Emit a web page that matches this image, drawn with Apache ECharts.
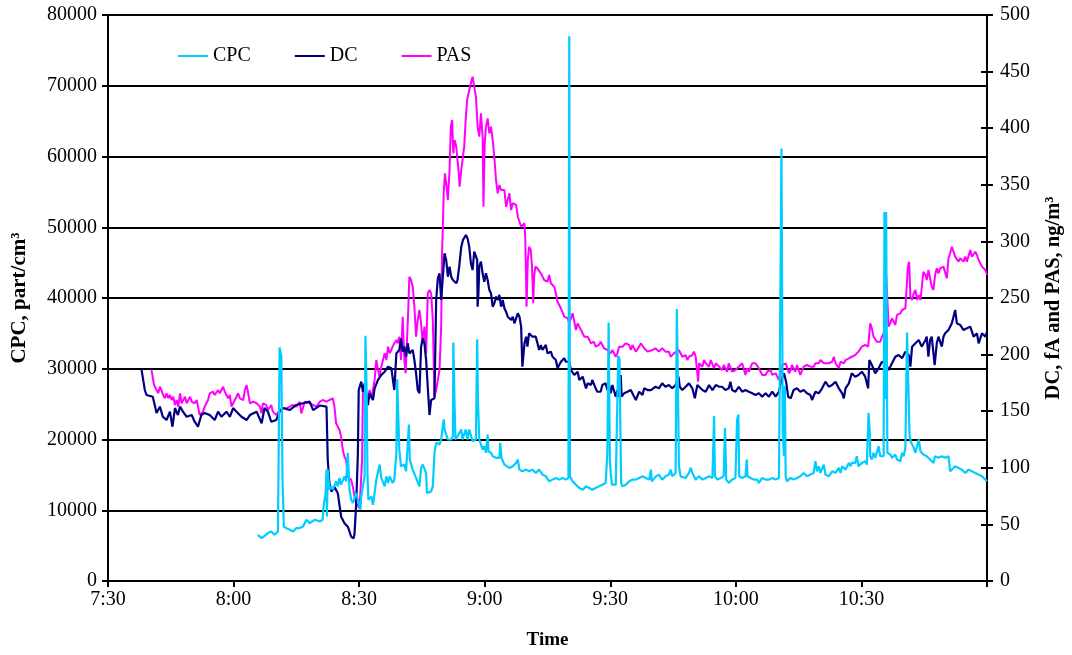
<!DOCTYPE html>
<html><head><meta charset="utf-8">
<script src="https://cdn.jsdelivr.net/npm/echarts@6/dist/echarts.min.js"></script>
<style>html,body{margin:0;padding:0;background:#fff}#c{width:1072px;height:655px}</style>
</head><body><div id="c"></div>
<script>
// x = minutes after 7:30
const xTickLabels = ['7:30','8:00','8:30','9:00','9:30','10:00','10:30',''];
const seriesNames = ['CPC','DC','PAS'];

const cpcPoints = [[35.8,6525],[36.7,6057],[37.4,6383],[38.2,6766],[39.0,6993],[39.8,6525],[40.6,6993],[40.9,6993],[41.0,33007],[41.4,31815],[41.7,14326],[42.0,7702],[42.6,7475],[43.4,7234],[44.2,6993],[45.0,7475],[45.8,7475],[46.6,7702],[47.4,8652],[48.2,8184],[48.6,8411],[49.4,8652],[50.6,8411],[51.3,8652],[51.5,10539],[52.0,12440],[52.2,15744],[52.3,9120],[52.5,15744],[52.9,12907],[53.4,13375],[53.7,12907],[54.5,14085],[54.9,13375],[55.3,14567],[55.7,13617],[56.5,14794],[56.9,14085],[57.3,18113],[57.5,15276],[57.7,12907],[58.1,11489],[58.5,11021],[59.3,12440],[59.7,11489],[60.3,10071],[60.5,11957],[60.9,13375],[61.3,14794],[61.5,34652],[61.8,26624],[62.0,14794],[62.2,11489],[62.9,11957],[63.3,10780],[63.7,12440],[64.1,14326],[64.9,16453],[65.3,14567],[66.1,13375],[66.5,14794],[66.9,13858],[67.3,14794],[68.0,13858],[68.4,14326],[68.9,18113],[69.1,28510],[69.3,24255],[69.6,18581],[70.0,16212],[70.8,16453],[71.2,15503],[71.6,15744],[71.9,22127],[72.1,17163],[72.8,15744],[73.6,14567],[74.4,13375],[74.8,15985],[75.2,16453],[76.0,15276],[76.2,12440],[77.2,12666],[77.6,13375],[78.0,18113],[78.4,19532],[79.2,19290],[79.6,20000],[80.2,22836],[80.4,21418],[81.2,20000],[82.0,20000],[82.4,20468],[82.5,33716],[82.8,24723],[83.0,20000],[83.5,20468],[84.4,21418],[84.7,20000],[85.5,21418],[85.9,20000],[86.3,21418],[87.1,19759],[87.9,20000],[88.2,34184],[88.4,25205],[88.7,20000],[89.5,18581],[89.9,19049],[90.3,18113],[90.7,20709],[90.9,18340],[91.5,18113],[91.9,17631],[92.7,17404],[93.1,17163],[93.5,17404],[93.7,19532],[94.0,17404],[94.3,17163],[94.7,16453],[95.1,16212],[95.9,15985],[96.7,16212],[97.5,16694],[97.9,17163],[98.3,15744],[99.0,15503],[99.9,15744],[100.6,15503],[101.4,15744],[102.2,15276],[103.0,15744],[103.8,15035],[104.6,14794],[105.4,14085],[106.2,14326],[107.0,14567],[107.8,14326],[108.6,14567],[109.0,14794],[109.4,14326],[110.0,14567],[110.2,77000],[110.35,14794],[111.0,14085],[111.8,13617],[112.6,13149],[113.4,12907],[114.2,13375],[115.0,13149],[115.7,12907],[116.5,13149],[117.3,13375],[118.1,13617],[118.9,13858],[119.3,18113],[119.6,36552],[119.9,17163],[120.1,15276],[120.4,13617],[121.3,13617],[121.7,13375],[121.9,31815],[122.2,31347],[122.4,21886],[122.6,13858],[122.9,13375],[123.7,13617],[124.5,14085],[125.3,14326],[126.1,14326],[126.9,14567],[127.7,14794],[128.5,14567],[129.3,14326],[129.7,15744],[129.9,14085],[130.9,14794],[131.6,15035],[132.4,14326],[133.2,14794],[134.0,15035],[134.4,15744],[134.8,14794],[135.6,15276],[135.9,38439],[136.1,30396],[136.3,20950],[136.4,16212],[136.8,14794],[137.2,15035],[138.0,14567],[138.8,15276],[139.2,15985],[139.6,15276],[140.4,14326],[141.2,14794],[142.0,14326],[142.8,14567],[143.6,14794],[144.4,14567],[144.8,23305],[145.0,14794],[145.6,14326],[146.4,14567],[147.1,14794],[147.4,21659],[147.7,14326],[148.3,13858],[149.1,14326],[149.9,14567],[150.3,22836],[150.6,23545],[150.8,14794],[151.5,14567],[152.3,14794],[152.6,17163],[152.8,14794],[153.5,14567],[154.3,14326],[155.1,14326],[155.5,13858],[156.3,14567],[157.1,14326],[157.9,14326],[158.7,14567],[159.5,14326],[160.3,14567],[160.7,14794],[160.9,61133],[161.2,20950],[161.5,17631],[161.7,27560],[161.9,14794],[162.2,14085],[163.1,14567],[163.8,14326],[164.6,14567],[165.4,14794],[166.2,15276],[167.0,14794],[167.8,15035],[168.6,15276],[169.0,16922],[169.4,15503],[169.8,16212],[170.2,15276],[171.0,16453],[171.4,15035],[172.2,14794],[173.0,15503],[173.8,15276],[174.6,15985],[175.0,15276],[175.4,16212],[176.2,15744],[177.0,16694],[177.4,16212],[177.7,16694],[178.5,16694],[178.9,17631],[179.3,16212],[180.1,16694],[180.9,16922],[181.3,16453],[181.7,23786],[182.0,20950],[182.1,17631],[182.5,17163],[182.9,18113],[183.3,17404],[184.1,19049],[184.5,17631],[185.3,17631],[185.5,52154],[185.8,25673],[185.9,52154],[186.2,18113],[186.9,17872],[187.3,17404],[188.1,17872],[188.5,17163],[189.3,16922],[189.7,18113],[190.1,17631],[190.5,18823],[190.9,35134],[191.3,35134],[191.5,20468],[191.9,19532],[192.5,18823],[192.9,18113],[193.7,20000],[194.1,18340],[194.8,17872],[195.6,17631],[196.4,17163],[197.2,16694],[197.6,17631],[198.4,17404],[199.2,17631],[200.0,17404],[200.8,17631],[201.2,15503],[201.6,15276],[202.4,16212],[203.2,15985],[204.0,15744],[204.8,15276],[205.6,15744],[206.4,15503],[207.2,15276],[208.0,15035],[208.8,14794],[209.6,14326],[210.0,14085]];

const dcPoints = [[8.0,187],[8.8,168.7],[9.2,164.3],[10.7,162.8],[11.6,148.4],[12.4,154],[13.1,145.1],[14.0,142.2],[14.8,149.6],[15.4,136.3],[16.0,152.8],[16.7,146.6],[17.2,154],[17.9,149.6],[18.8,145.1],[20.0,146.6],[20.7,140.7],[21.5,136.3],[22.3,146.6],[23.1,148.4],[24.3,146.6],[25.5,142.2],[26.3,149.6],[27.1,145.1],[28.3,149.6],[29.1,145.1],[29.9,152.8],[30.7,149.6],[31.9,145.1],[33.1,142.2],[33.9,146.6],[35.5,149.6],[36.7,139.3],[37.4,152.8],[38.2,149.6],[39.0,140.7],[40.2,142.2],[41.0,149.6],[41.8,152.8],[43.4,151],[45.0,155.5],[46.6,157],[48.2,158.4],[49.0,151],[50.6,155],[52.2,154],[52.5,106.9],[52.9,86.3],[53.4,78.9],[54.1,83.3],[54.9,77.5],[55.7,56.8],[56.5,51],[57.3,48],[58.1,39.1],[58.7,37.7],[58.9,42.1],[59.3,68.6],[59.7,112.8],[59.9,168.7],[60.5,176.1],[60.9,167.2],[61.3,174.6],[61.7,165.8],[62.1,155.5],[62.5,165.8],[63.3,159.9],[63.7,170.2],[64.5,177.6],[65.3,182],[66.1,184.9],[66.9,189.3],[67.7,187.9],[68.4,168.7],[68.9,201.1],[69.6,204.1],[70.0,214.4],[70.4,202.6],[70.8,207],[71.2,198.1],[71.6,210],[72.0,201.1],[72.8,204.1],[73.2,195.2],[73.6,183.5],[74.0,168.7],[74.4,165.8],[74.8,207],[75.2,214.4],[75.6,210],[76.0,195.2],[76.8,146.6],[77.2,159.9],[78.0,161.4],[78.4,248.2],[78.8,267.4],[79.2,271.8],[79.6,248.2],[80.0,268.8],[80.4,289.5],[80.8,283.6],[81.2,268.8],[81.6,277.7],[82.0,268.8],[82.4,265.9],[83.2,263],[83.5,265.9],[83.9,277.7],[84.4,295.3],[84.8,301.2],[85.5,305.7],[85.9,302.7],[86.3,295.3],[86.7,280.7],[87.1,274.7],[87.5,290.9],[87.9,292.4],[88.2,283.6],[88.3,242.3],[88.5,254],[88.7,277.7],[89.1,282.1],[89.5,271.8],[89.9,264.4],[90.3,271.8],[90.7,265.9],[91.1,257.1],[91.5,254.2],[91.9,242.3],[92.3,245.3],[92.7,251.2],[93.1,248.2],[93.5,252.7],[93.9,242.3],[94.3,248.2],[94.7,240.9],[95.1,237.9],[95.5,233.5],[95.9,235],[96.3,230.6],[96.7,233.5],[97.1,227.6],[97.5,229.1],[97.9,236.5],[98.3,233.5],[98.7,224.7],[99.0,189.3],[99.5,210],[99.9,215.8],[100.2,207],[100.6,218.8],[101.0,220.2],[101.4,215.8],[102.2,215.8],[102.6,210],[103.0,204.1],[103.4,208.5],[103.8,204.1],[104.6,208.5],[105.0,201.1],[105.8,202.6],[106.2,198.1],[107.0,195.2],[107.4,187.9],[107.8,186.4],[108.2,193.7],[109.0,196.7],[109.4,193.7],[110.2,193.7],[110.6,186.4],[111.4,182],[112.2,184.9],[112.6,177.6],[113.0,176.1],[113.4,180.5],[114.2,170.2],[114.6,174.6],[115.4,173.1],[115.7,177.6],[116.5,170.2],[116.9,167.2],[117.7,167.2],[118.1,173.1],[118.9,174.6],[119.3,168.7],[119.7,173.1],[120.1,165.8],[120.5,173.1],[121.3,162.8],[121.7,168.7],[122.1,162.8],[122.5,182],[122.7,162.8],[123.3,165.8],[124.1,167.2],[124.9,168.7],[125.7,162.8],[126.1,159.9],[126.9,167.2],[127.7,164.3],[128.1,170.2],[128.9,168.7],[129.7,168.7],[130.1,170.2],[130.8,171.6],[131.6,170.2],[132.4,174.6],[133.2,171.6],[134.0,173.1],[134.8,170.2],[135.6,173.1],[136.3,180.5],[136.6,171.6],[137.2,168.7],[138.0,171.6],[138.8,174.6],[139.6,170.2],[140.2,161.4],[140.8,173.1],[141.2,174.6],[142.0,168.7],[142.8,167.2],[143.6,173.1],[144.4,168.7],[145.2,173.1],[146.0,171.6],[146.7,171.6],[147.5,168.7],[148.3,170.2],[148.7,176.1],[149.1,168.7],[149.9,167.2],[150.7,171.6],[151.5,167.2],[152.3,168.7],[153.1,167.2],[153.9,165.8],[154.7,164.3],[155.5,165.8],[156.3,162.8],[157.1,165.8],[157.9,162.8],[158.7,167.2],[159.5,162.8],[160.3,167.2],[160.9,177.6],[161.5,183.5],[162.0,176.1],[162.5,162.8],[163.1,161.4],[163.8,168.7],[164.6,170.2],[165.4,167.2],[166.2,168.7],[167.0,165.8],[167.8,164.3],[168.2,159.9],[169.0,167.2],[169.8,165.8],[170.6,170.2],[171.4,176.1],[172.2,171.6],[173.0,173.1],[173.8,176.1],[174.6,170.2],[175.4,165.8],[175.8,161.4],[176.2,170.2],[177.0,174.6],[177.7,183.5],[178.5,180.5],[179.3,182],[180.1,184.9],[180.9,180.5],[181.6,170.2],[181.9,195.2],[182.5,190.8],[183.3,183.5],[184.1,187.9],[184.9,193.7],[185.5,192.3],[185.9,218.8],[186.1,189.3],[186.5,186.4],[187.3,192.3],[188.1,198.1],[188.9,199.6],[189.7,196.7],[190.5,202.6],[191.3,199.6],[191.7,189.3],[192.1,207],[192.9,210],[193.7,212.9],[194.4,207],[195.3,212.9],[195.6,215.8],[196.0,198.1],[196.4,212.9],[196.8,215.8],[197.5,190.8],[198.0,210],[198.4,215.8],[199.2,207],[199.6,215.8],[200.0,218.8],[200.8,221.7],[201.6,227.6],[202.0,233.5],[202.4,239.4],[202.8,227.6],[203.6,226.2],[204.4,221.7],[205.2,223.2],[206.0,224.7],[206.8,215.8],[207.6,218.8],[208.0,210],[208.8,218.8],[209.6,215.8],[210.0,220.2]];

const pasPoints = [[10.4,186.4],[11.0,173.1],[11.4,171.6],[12.0,165.8],[12.4,171.6],[13.2,164.3],[13.6,161.4],[14.0,165.8],[14.4,161.4],[14.8,164.3],[15.2,159.9],[15.6,162.8],[16.0,155.5],[16.4,159.9],[16.8,154],[17.2,165.8],[17.6,157],[18.0,159.9],[18.4,162.8],[18.8,157],[19.6,162.8],[20.0,158.4],[20.7,157],[21.2,159.9],[21.5,154],[21.9,146.6],[22.7,149.6],[23.1,154],[23.5,157],[23.9,159.9],[24.3,165.8],[25.1,167.2],[25.5,164.3],[26.3,168.7],[26.7,165.8],[27.5,171.6],[27.9,167.2],[28.3,168.7],[28.7,161.4],[29.1,164.3],[29.5,154],[29.9,157],[30.7,162.8],[31.1,165.8],[31.5,161.4],[32.3,159.9],[32.7,168.7],[33.1,173.1],[33.5,165.8],[33.9,157],[34.7,158.4],[35.5,157],[36.3,154],[36.7,148.1],[37.0,157],[37.8,155.5],[38.2,151],[39.0,155.5],[39.4,149.6],[40.2,146.6],[41.0,151],[41.8,152.5],[42.6,152.5],[43.4,154],[44.2,155.5],[45.0,154],[45.8,158.4],[46.2,148.1],[47.0,158.4],[48.2,157],[49.0,155.5],[49.8,154],[50.6,158.4],[51.3,159.9],[52.2,158.4],[52.9,159.9],[53.7,161.4],[54.1,154],[54.5,139.3],[55.3,133.4],[55.7,127.5],[56.1,115.7],[56.5,109.8],[56.9,106.9],[57.3,92.1],[57.7,92.1],[58.1,89.2],[58.5,83.3],[58.9,74.5],[59.3,68.6],[59.7,68.6],[60.1,64.2],[60.5,65.6],[60.7,106.9],[60.9,165.8],[61.3,168.7],[61.7,159.9],[62.1,162.8],[62.5,168.7],[62.9,161.4],[63.3,168.7],[63.7,177.6],[64.1,195.2],[64.5,186.4],[64.9,180.5],[65.3,189.3],[65.7,195.2],[66.1,201.1],[66.5,195.2],[66.9,207],[67.3,201.1],[67.7,204.1],[68.0,207],[68.4,210],[68.9,212.9],[69.2,210],[69.6,215.8],[70.0,195.2],[70.4,233.5],[70.8,195.2],[71.1,183.5],[71.4,210],[71.7,236.5],[72.0,268.8],[72.4,265.9],[72.8,260],[73.2,242.3],[73.6,215.8],[74.0,230.6],[74.4,239.4],[74.8,227.6],[75.2,210],[75.6,224.7],[76.0,201.1],[76.4,254.2],[76.8,257.1],[77.2,254.2],[77.6,230.6],[78.0,162.8],[78.4,168.7],[78.8,177.6],[79.2,186.4],[79.6,224.7],[79.8,289.5],[80.0,313],[80.2,342.5],[80.5,360.2],[80.8,351.3],[81.2,336.6],[81.6,363.1],[81.9,401.3],[82.2,407.2],[82.5,377.8],[82.8,389.6],[83.2,383.7],[83.5,371.9],[83.8,360.2],[84.0,348.3],[84.4,363.1],[84.7,371.9],[85.1,383.7],[85.5,410.2],[85.8,424.9],[86.3,433.7],[86.7,439.7],[87.1,445.5],[87.5,436.7],[87.9,427.8],[88.3,401.3],[88.7,392.5],[89.1,413.2],[89.5,392.5],[89.7,330.7],[90.0,386.7],[90.3,401.3],[90.7,408.7],[91.1,395.5],[91.5,401.3],[91.9,389.6],[92.3,374.8],[92.7,354.2],[93.1,342.5],[93.5,349.8],[93.9,345.4],[94.7,345.4],[95.1,330.7],[95.5,336.6],[95.9,342.5],[96.3,327.7],[96.7,333.7],[97.5,332.2],[97.9,321.8],[98.3,317.4],[98.7,313],[99.5,316],[99.7,301.2],[100.0,242.3],[100.3,283.6],[100.6,295.3],[101.0,292.4],[101.3,277.7],[101.6,245.3],[101.8,268.8],[102.1,277.7],[102.6,276.2],[103.4,271.8],[103.8,273.2],[104.2,265.9],[105.0,264.4],[105.4,270.3],[105.8,263],[106.6,260],[107.0,254.2],[107.4,246.7],[108.2,240.9],[109.0,233.5],[109.8,232.1],[110.2,227.6],[111.0,236.5],[111.8,221.7],[112.2,227.6],[113.0,221.7],[113.8,215.8],[114.6,215.8],[115.4,210],[115.7,208.5],[116.1,211.4],[116.5,207],[117.3,208.5],[117.7,211.4],[118.5,205.6],[119.3,204.1],[120.1,201.1],[120.5,204.1],[121.3,198.1],[121.7,201.1],[122.1,207],[122.9,207],[123.3,205.6],[123.7,210],[124.5,208.5],[124.9,204.1],[125.3,208.5],[126.1,202.6],[126.9,207],[127.3,210],[128.1,205.6],[128.9,202.6],[129.3,201.1],[130.1,204.1],[130.8,205.6],[131.6,202.6],[132.4,205.6],[133.2,202.6],[134.0,202.6],[134.4,198.1],[135.2,201.1],[136.4,204.1],[137.2,198.1],[138.0,199.6],[138.4,195.2],[138.8,198.1],[139.6,199.6],[140.0,202.6],[140.4,198.1],[140.8,183.5],[141.0,176.1],[141.2,192.3],[142.0,189.3],[142.4,195.2],[142.8,192.3],[143.6,189.3],[144.0,195.2],[144.8,187.9],[145.2,192.3],[146.0,189.3],[146.7,186.4],[147.1,190.8],[147.9,184.9],[148.3,192.3],[149.1,184.9],[149.9,186.4],[150.7,189.3],[151.5,192.3],[152.3,182],[152.7,187.9],[153.1,184.9],[153.9,192.3],[154.7,192.3],[155.5,187.9],[156.3,182],[157.1,182],[157.5,184.9],[158.3,186.4],[158.7,182],[159.5,183.5],[160.3,177.6],[160.7,183.5],[161.1,190.8],[161.9,192.3],[162.7,183.5],[163.1,186.4],[163.4,190.8],[164.2,184.9],[164.6,190.8],[165.4,182],[166.2,189.3],[167.0,190.8],[167.8,189.3],[168.6,189.3],[169.0,192.3],[169.8,192.3],[170.2,195.2],[170.6,196.7],[171.0,192.3],[172.2,192.3],[173.0,193.7],[173.4,198.1],[173.8,192.3],[174.6,187.9],[175.0,193.7],[175.8,192.3],[176.2,195.2],[177.0,196.7],[177.7,198.1],[178.5,199.6],[179.3,202.6],[180.1,207],[180.9,208.5],[181.6,207],[181.9,218.8],[182.1,227.6],[182.5,223.2],[182.9,215.8],[183.3,214.4],[183.7,211.4],[184.5,211.4],[184.9,215.8],[185.3,218.8],[185.7,224.7],[185.9,271.8],[186.2,248.2],[186.5,224.7],[186.9,227.6],[187.3,232.1],[188.1,226.2],[188.5,235],[189.3,236.5],[189.7,239.4],[190.5,240.9],[190.9,242.3],[191.1,277.7],[191.4,282.1],[191.7,251.2],[192.1,248.2],[192.5,254.2],[192.9,257.1],[193.3,248.2],[193.7,252.7],[194.1,248.2],[194.4,258.6],[194.8,273.2],[195.3,270.3],[195.6,265.9],[196.0,274.7],[196.8,260],[197.2,257.1],[197.6,270.3],[198.0,276.2],[198.4,271.8],[198.8,276.2],[199.6,277.7],[200.0,276.2],[200.4,267.4],[200.8,285.1],[201.2,289.5],[201.6,295.3],[202.0,296.8],[202.4,286.5],[203.2,282.1],[203.6,285.1],[204.4,282.1],[204.8,286.5],[205.2,282.1],[206.0,292.4],[206.4,286.5],[207.2,290.9],[207.6,288],[208.0,283.6],[208.8,277.7],[209.6,274.7],[210.0,270.3]];

const FONT = '"Liberation Serif", "Times New Roman", serif';
const chart = echarts.init(document.getElementById('c'), null, {renderer: 'canvas'});
const black = '#000';
chart.setOption({
  animation: false,
  backgroundColor: '#fff',
  textStyle: {fontFamily: FONT, color: black},
  grid: {left: 108, right: 82, top: 15, bottom: 74, containLabel: false},
  legend: {
    data: seriesNames, left: 173, top: 41, itemGap: 44, itemWidth: 30, itemHeight: 2, icon: 'rect',
    textStyle: {fontFamily: FONT, fontSize: 20, color: black}
  },
  xAxis: {
    type: 'value', min: 0, max: 210, interval: 30,
    axisLine: {show: true, onZero: false, lineStyle: {color: black, width: 2}},
    axisTick: {show: true, length: 6, lineStyle: {color: black, width: 2}},
    splitLine: {show: false},
    axisLabel: {fontFamily: FONT, fontSize: 20, color: black, margin: 9,
      formatter: v => xTickLabels[Math.round(v / 30)] || ''},
    name: 'Time', nameLocation: 'middle', nameGap: 50,
    nameTextStyle: {fontFamily: FONT, fontSize: 19, fontWeight: 'bold', color: black}
  },
  yAxis: [
    {
      type: 'value', min: 0, max: 80000, interval: 10000, position: 'left',
      axisLine: {show: true, lineStyle: {color: black, width: 2}},
      axisTick: {show: true, length: 6, lineStyle: {color: black, width: 2}},
      splitLine: {show: true, lineStyle: {color: black, width: 2}},
      axisLabel: {fontFamily: FONT, fontSize: 20, color: black, margin: 11, formatter: v => String(v)},
      name: 'CPC, part/cm³', nameLocation: 'middle', nameRotate: 90, nameGap: 78,
      nameTextStyle: {fontFamily: FONT, fontSize: 21, fontWeight: 'bold', color: black}
    },
    {
      type: 'value', min: 0, max: 500, interval: 50, position: 'right',
      axisLine: {show: true, lineStyle: {color: black, width: 2}},
      axisTick: {show: true, length: 6, lineStyle: {color: black, width: 2}},
      splitLine: {show: false},
      axisLabel: {fontFamily: FONT, fontSize: 20, color: black, margin: 13, formatter: v => String(v)},
      name: 'DC, fA and PAS, ng/m³', nameLocation: 'middle', nameRotate: 90, nameGap: 56,
      nameTextStyle: {fontFamily: FONT, fontSize: 20.5, fontWeight: 'bold', color: black}
    },
    {
      type: 'value', min: 0, max: 500, interval: 50, position: 'right',
      axisLine: {show: false},
      axisTick: {show: true, inside: true, length: 6, lineStyle: {color: black, width: 2}},
      splitLine: {show: false}, axisLabel: {show: false}
    }
  ],
  series: [
    {name: 'PAS', type: 'line', yAxisIndex: 1, data: pasPoints, showSymbol: false, symbol: 'none',
      lineStyle: {color: '#ff00ff', width: 2}, itemStyle: {color: '#ff00ff'}, z: 2},
    {name: 'DC', type: 'line', yAxisIndex: 1, data: dcPoints, showSymbol: false, symbol: 'none',
      lineStyle: {color: '#000080', width: 2.2}, itemStyle: {color: '#000080'}, z: 3},
    {name: 'CPC', type: 'line', yAxisIndex: 0, data: cpcPoints, showSymbol: false, symbol: 'none',
      lineStyle: {color: '#00ccff', width: 2.2}, itemStyle: {color: '#00ccff'}, z: 4}
  ]
});
</script>
</body></html>
